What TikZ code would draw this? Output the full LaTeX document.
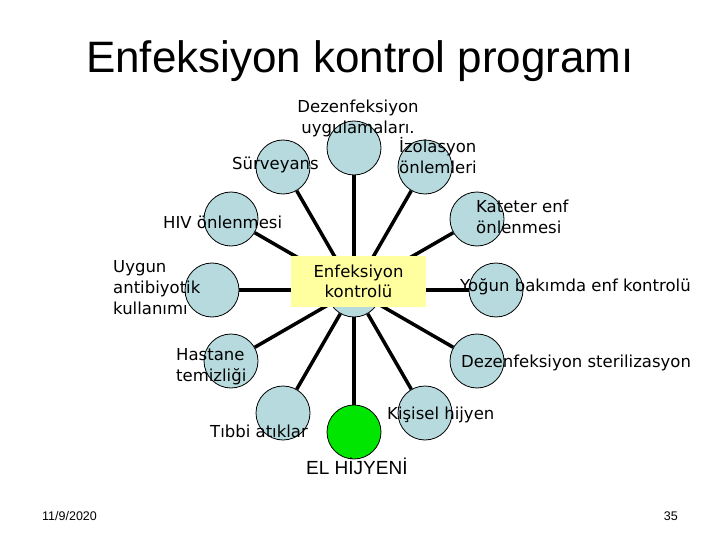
\documentclass[tikz,border=0pt]{standalone}
\usepackage{fontspec}
\setmainfont{DejaVu Sans}
\newfontfamily\arialf{Liberation Sans}
\usetikzlibrary{backgrounds}
\definecolor{bubfill}{RGB}{183,218,222}
\definecolor{boxyellow}{RGB}{255,255,160}
\definecolor{handgreen}{RGB}{0,230,0}
\begin{document}
\begin{tikzpicture}[x=1pt,y=-1pt,
  bub/.style={circle,draw=black,line width=0.8pt,fill=bubfill,minimum size=54pt,inner sep=0pt},
  lbl/.style={inner sep=0pt,font=\fontsize{16.5}{21}\selectfont,align=left},
  spoke/.style={line width=3.5pt,draw=black}]
\useasboundingbox (0,0) rectangle (720,540);

% title
\node[inner sep=0pt,anchor=base,font=\arialf\fontsize{44}{50}\selectfont] (title) at (360,73) {Enfeksiyon kontrol programı};

% hub and bubbles
\node[bub] (c) at (354,290) {};
\node[bub] (o1) at (354,148) {};
\node[bub] (o2) at (425,167) {};
\node[bub] (o3) at (477,219) {};
\node[bub] (o4) at (496,290) {};
\node[bub] (o5) at (477,361) {};
\node[bub] (o6) at (425,413) {};
\node[bub,fill=handgreen] (o7) at (354,432) {};
\node[bub] (o8) at (283,413) {};
\node[bub] (o9) at (231,361) {};
\node[bub] (o10) at (212,290) {};
\node[bub] (o11) at (231,219) {};
\node[bub] (o12) at (283,167) {};

\begin{pgfonlayer}{background}
\foreach \i in {1,...,12} \draw[spoke] (c) -- (o\i);
\end{pgfonlayer}

% central box
\node[fill=boxyellow,minimum width=135pt,minimum height=51pt,inner sep=0pt,
  align=center,font=\fontsize{16.5}{20}\selectfont] (box) at (358.5,281.5) {Enfeksiyon\\kontrolü};

% labels
\node[lbl,align=center] (l1) at (358,118) {Dezenfeksiyon\\uygulamaları.};
\node[lbl,anchor=west] (l2) at (399,156) {İzolasyon\\önlemleri};
\node[lbl,anchor=west] (l12) at (232,165) {Sürveyans};
\node[lbl,anchor=west] (l3) at (476,217) {Kateter enf\\önlenmesi};
\node[lbl,anchor=west] (l11) at (163,222) {HIV önlenmesi};
\node[lbl,anchor=west] (l10) at (113,288) {Uygun\\antibiyotik\\kullanımı};
\node[lbl,anchor=west] (l4) at (460,287) {Yoğun bakımda enf kontrolü};
\node[lbl,anchor=west] (l5) at (461,363) {Dezenfeksiyon sterilizasyon};
\node[lbl,anchor=west] (l9) at (176,367) {Hastane\\temizliği};
\node[lbl,anchor=west] (l8) at (210,431) {Tıbbi atıklar};
\node[lbl,anchor=west] (l6) at (387,415) {Kişisel hijyen};
\node[inner sep=0pt,anchor=west,font=\arialf\fontsize{19}{22}\selectfont] (l7) at (306,466) {EL HİJYENİ};

% footer
\node[inner sep=0pt,anchor=west,font=\arialf\fontsize{12.5}{14}\selectfont] (date) at (42,516) {11/9/2020};
\node[inner sep=0pt,anchor=east,font=\arialf\fontsize{12.5}{14}\selectfont] (page) at (678,516) {35};
\end{tikzpicture}
\end{document}
